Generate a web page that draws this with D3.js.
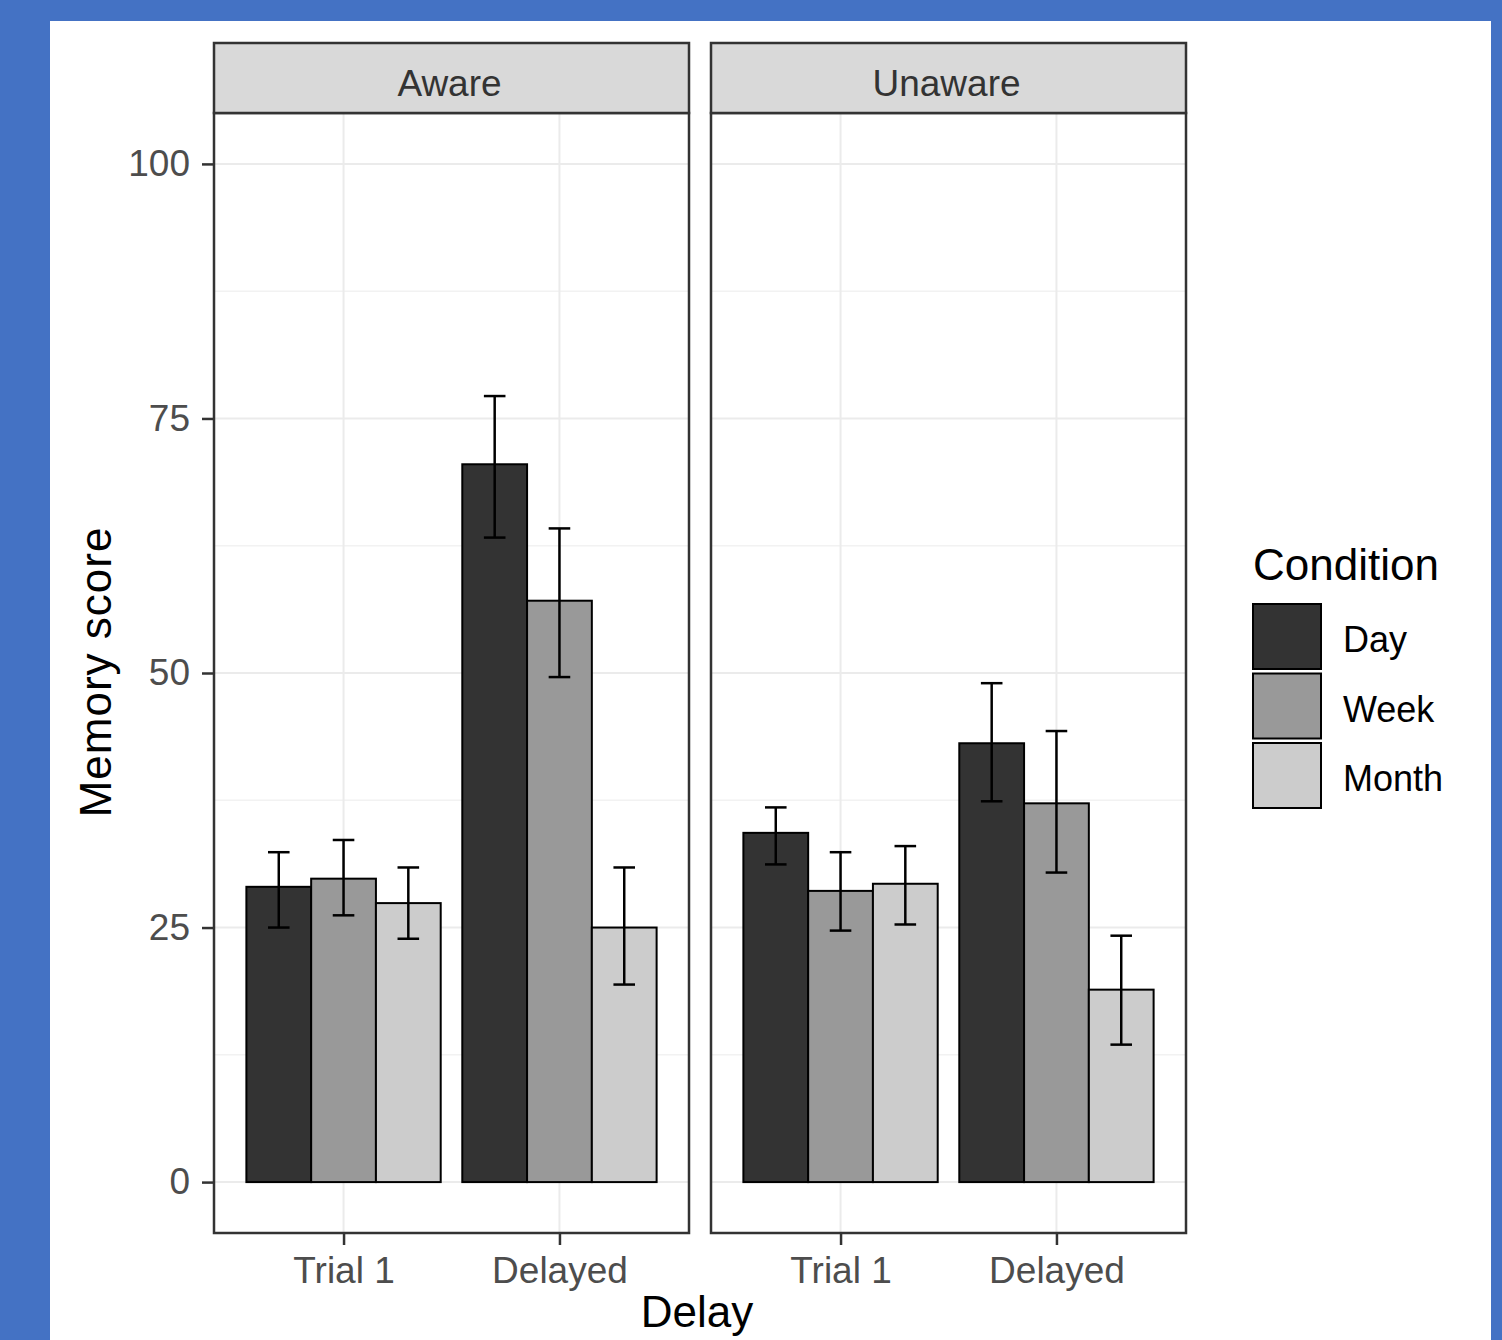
<!DOCTYPE html>
<html>
<head>
<meta charset="utf-8">
<script src="https://cdn.jsdelivr.net/npm/d3@7"></script>
<style>
  body { margin: 0; background: #4472C4; }
  text { font-family: "Liberation Sans", Arial, sans-serif; }
</style>
</head>
<body>
<svg id="chart" width="1502" height="1340"></svg>
<script>
const facets = ['Aware', 'Unaware']
const delays = ['Trial 1', 'Delayed']
const conditions = ['Day', 'Week', 'Month']
const fills = ['#333333', '#999999', '#cccccc']
const yTicks = [0, 25, 50, 75, 100]

// means, [facet][delay][condition]
const means = [
  [[29.0, 29.8, 27.4], [70.5, 57.1, 25.0]],
  [[34.3, 28.6, 29.3], [43.1, 37.2, 18.9]]
]
const lows = [
  [[25.0, 26.2, 23.9], [63.3, 49.6, 19.4]],
  [[31.2, 24.7, 25.3], [37.4, 30.4, 13.5]]
]
const highs = [
  [[32.4, 33.6, 30.9], [77.2, 64.2, 30.9]],
  [[36.8, 32.4, 33.0], [49.0, 44.3, 24.2]]
]

let svg = d3.select('#chart')

svg.append('rect').attr('x', 50).attr('y', 21).attr('width', 1441).attr('height', 1319).attr('fill', '#fff')

let panelTop = 113, panelBottom = 1233, stripTop = 43
let panelW = 475
let panelX = [214, 711]

let y = d3.scaleLinear().domain([-5, 105]).range([panelBottom, panelTop])

facets.forEach((f, fi) => {
  let x0 = panelX[fi]
  let x = d3.scaleLinear().domain([0.4, 2.6]).range([x0, x0 + panelW])
  let g = svg.append('g')

  // grid
  let minor = [12.5, 37.5, 62.5, 87.5]
  g.selectAll('.minor').data(minor).enter().append('line')
    .attr('x1', x0).attr('x2', x0 + panelW)
    .attr('y1', d => y(d)).attr('y2', d => y(d))
    .attr('stroke', '#f2f2f2').attr('stroke-width', 1.5)
  g.selectAll('.major').data(yTicks).enter().append('line')
    .attr('x1', x0).attr('x2', x0 + panelW)
    .attr('y1', d => y(d)).attr('y2', d => y(d))
    .attr('stroke', '#ebebeb').attr('stroke-width', 2)
  g.selectAll('.vmajor').data(delays).enter().append('line')
    .attr('x1', (d, i) => x(i + 1)).attr('x2', (d, i) => x(i + 1))
    .attr('y1', panelTop).attr('y2', panelBottom)
    .attr('stroke', '#ebebeb').attr('stroke-width', 2)

  // bars
  let bw = 0.3
  delays.forEach((dl, di) => {
    conditions.forEach((c, ci) => {
      let cx = di + 1 - 0.45 + bw * ci
      g.append('rect')
        .attr('x', x(cx)).attr('width', x(cx + bw) - x(cx))
        .attr('y', y(means[fi][di][ci])).attr('height', y(0) - y(means[fi][di][ci]))
        .attr('fill', fills[ci]).attr('stroke', '#000').attr('stroke-width', 2)
    })
  })
  // error bars
  delays.forEach((dl, di) => {
    conditions.forEach((c, ci) => {
      let mid = di + 1 - 0.45 + bw * ci + bw / 2
      let hw = 0.05
      let eg = g.append('g').attr('stroke', '#000').attr('stroke-width', 2.5)
      eg.append('line').attr('x1', x(mid)).attr('x2', x(mid))
        .attr('y1', y(lows[fi][di][ci])).attr('y2', y(highs[fi][di][ci]))
      eg.append('line').attr('x1', x(mid - hw)).attr('x2', x(mid + hw))
        .attr('y1', y(lows[fi][di][ci])).attr('y2', y(lows[fi][di][ci]))
      eg.append('line').attr('x1', x(mid - hw)).attr('x2', x(mid + hw))
        .attr('y1', y(highs[fi][di][ci])).attr('y2', y(highs[fi][di][ci]))
    })
  })

  // border
  g.append('rect').attr('x', x0).attr('y', panelTop).attr('width', panelW).attr('height', panelBottom - panelTop)
    .attr('fill', 'none').attr('stroke', '#333').attr('stroke-width', 2.5)
  // strip
  g.append('rect').attr('x', x0).attr('y', stripTop).attr('width', panelW).attr('height', panelTop - stripTop)
    .attr('fill', '#d9d9d9').attr('stroke', '#333').attr('stroke-width', 2.5)
  g.append('text').attr('x', x0 + panelW / 2 - 2).attr('y', 96).attr('text-anchor', 'middle')
    .attr('font-size', 37).attr('fill', '#333').text(f)

  // x axis
  let xAxis = d3.axisBottom(x).tickValues([1, 2]).tickFormat((d, i) => delays[i]).tickSize(12).tickPadding(12)
  let ax = g.append('g').attr('transform', `translate(0,${panelBottom})`).call(xAxis)
  ax.select('.domain').remove()
  ax.selectAll('line').attr('stroke', '#333').attr('stroke-width', 2.5)
  ax.selectAll('text').attr('font-size', 37).attr('fill', '#4d4d4d')
})

// y axis
let yAxis = d3.axisLeft(y).tickValues(yTicks).tickSize(12).tickPadding(12)
let ay = svg.append('g').attr('transform', `translate(${panelX[0]},0)`).call(yAxis)
ay.select('.domain').remove()
ay.selectAll('line').attr('stroke', '#333').attr('stroke-width', 2.5)
ay.selectAll('text').attr('font-size', 37).attr('fill', '#4d4d4d')

// axis titles
svg.append('text').attr('transform', 'translate(111,672) rotate(-90)').attr('text-anchor', 'middle')
  .attr('font-size', 44).attr('letter-spacing', 1).attr('fill', '#000').text('Memory score')
svg.append('text').attr('x', 697).attr('y', 1327).attr('text-anchor', 'middle')
  .attr('font-size', 44).attr('fill', '#000').text('Delay')

// legend
let lg = svg.append('g')
lg.append('text').attr('x', 1253).attr('y', 580).attr('font-size', 44).attr('fill', '#000').text('Condition')
conditions.forEach((c, i) => {
  let ky = 604 + i * 69.5
  lg.append('rect').attr('x', 1253).attr('y', ky).attr('width', 68).attr('height', 65)
    .attr('fill', fills[i]).attr('stroke', '#000').attr('stroke-width', 2)
  lg.append('text').attr('x', 1343).attr('y', ky + 48).attr('font-size', 36).attr('fill', '#000').text(c)
})
</script>
</body>
</html>
